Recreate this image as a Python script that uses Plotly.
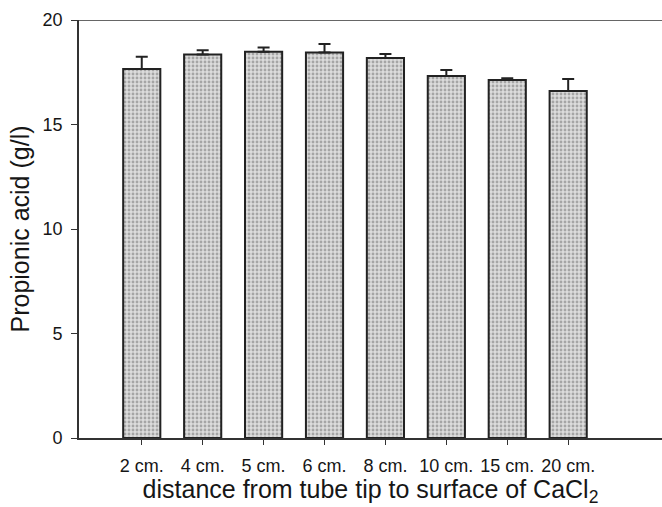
import plotly.graph_objects as go

# Distance from tube tip to CaCl2 surface
categories = ["2 cm.", "4 cm.", "5 cm.", "6 cm.", "8 cm.", "10 cm.", "15 cm.", "20 cm."]
# Propionic acid concentration (g/l)
means = [17.66, 18.35, 18.48, 18.44, 18.18, 17.32, 17.13, 16.60]
# Upper error (standard deviation)
errors = [0.58, 0.20, 0.21, 0.41, 0.19, 0.29, 0.08, 0.58]

fig = go.Figure()
fig.add_trace(go.Bar(
    x=list(range(len(categories))),
    y=means,
    width=0.61,
    marker=dict(
        color="#d8d8d8",
        line=dict(color="#222222", width=2),
        pattern=dict(shape=".", fgcolor="#6e6e6e", bgcolor="#dcdcdc", size=4, solidity=0.4),
    ),
    error_y=dict(type="data", array=errors, arrayminus=[0] * len(errors),
                 symmetric=False, color="#222222", thickness=2, width=6),
    showlegend=False,
))

font_family = "Liberation Sans, Arial, sans-serif"
text_color = "#161616"

fig.update_layout(
    width=662, height=507,
    margin=dict(l=79, r=0, t=20, b=69),
    plot_bgcolor="white", paper_bgcolor="white",
    font=dict(family=font_family, color=text_color),
    xaxis=dict(
        range=[-1.03, 8.54],
        tickmode="array",
        tickvals=list(range(len(categories))),
        ticktext=categories,
        ticks="outside", ticklen=5, tickwidth=1.3, tickcolor="#333333",
        ticklabelstandoff=6,
        showline=True, linecolor="#333333", linewidth=1.6,
        showgrid=False, zeroline=False,
        tickfont=dict(size=18, color=text_color),
        title=dict(text="distance from tube tip to surface of CaCl<sub>2</sub>",
                   font=dict(size=25, color=text_color), standoff=2),
    ),
    yaxis=dict(
        range=[0, 20],
        tickvals=[0, 5, 10, 15, 20],
        ticks="outside", ticklen=6, tickwidth=1.3, tickcolor="#333333",
        ticklabelstandoff=5,
        showline=True, linecolor="#333333", linewidth=1.6,
        showgrid=False, zeroline=False,
        tickfont=dict(size=18, color=text_color),
        title=dict(text="Propionic acid (g/l)", font=dict(size=25, color=text_color), standoff=6),
    ),
    shapes=[dict(type="line", xref="paper", yref="y", x0=0, x1=1, y0=20, y1=20,
                 line=dict(color="#333333", width=1.6))],
)

fig.write_html("out.html")
